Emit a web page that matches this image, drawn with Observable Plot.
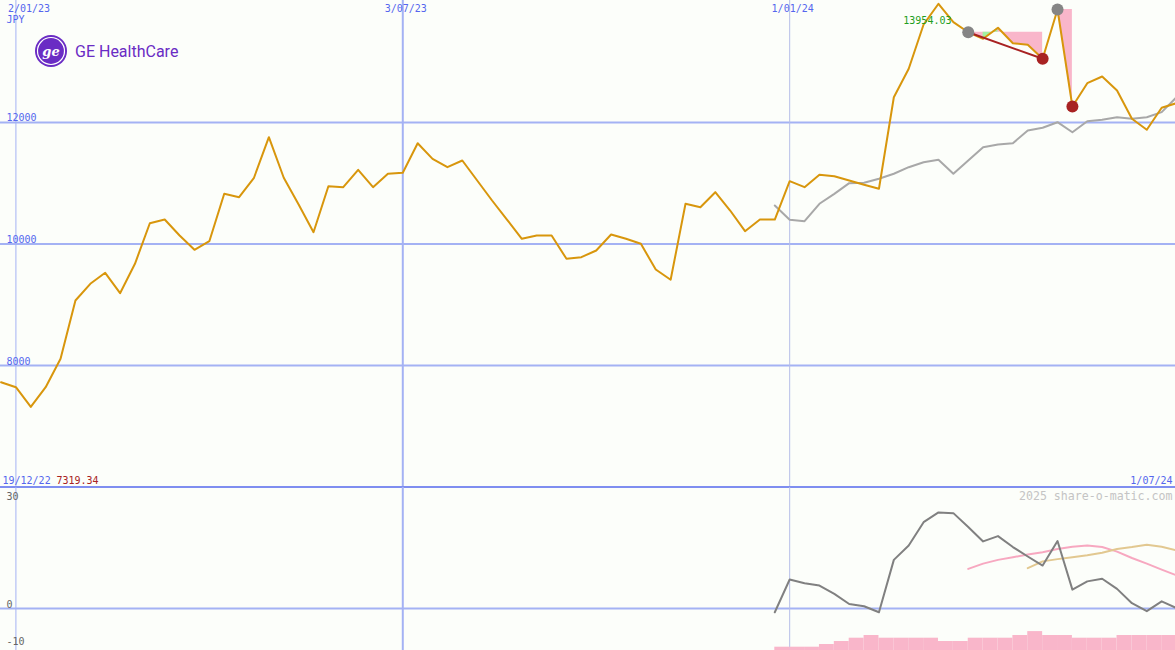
<!DOCTYPE html>
<html><head><meta charset="utf-8">
<script src="https://cdn.jsdelivr.net/npm/d3@7"></script>
<script src="https://cdn.jsdelivr.net/npm/@observablehq/plot@0.6"></script>
<style>
body{margin:0;background:#fcfefa;}
#chart{position:relative;width:1175px;height:650px;overflow:hidden;background:#fcfefa;}
#chart svg{display:block;position:absolute;left:0;}
</style></head><body><div id="chart"></div>
<script>
// ---- data ----
const startWeek = Date.UTC(2022, 11, 26);
const price = [7725,7643,7319.34,7643,8110,9070,9345,9526,9190,9674,
10342,10403,10140,9905,10046,10826,10770,11090,11758,11090,
10650,10194,10951,10935,11221,10935,11156,11172,11659,11402,
11264,11374,11045,10716,10403,10086,10140,10140,9756,9783,
9893,10156,10086,10003,9580,9411,10662,10606,10853,10551,
10211,10403,10403,11034,10935,11139,11116,11045,10974,10909,
12416,12884,13613,13954.03,13651,13486,13378,13559,13305,13279,
13049,13860,12263,12647,12757,12527,12061,11880,12242,12318];
const avgStart = 52;
const avgLine = [10634,10398,10375,10662,10826,11001,11007,11073,11156,11264,11346,11386,11156,11374,11593,11638,11659,11868,11913,12005,11840,12021,12044,12087,12061,12087,12170,12416];
const oscStart = 52;
const osc = [-1.0,7.7,6.7,6.1,3.9,1.2,0.6,-1.0,12.9,16.7,22.9,25.5,25.3,21.6,17.8,19.2,16.3,13.8,11.4,17.9,5.0,7.2,7.9,5.2,1.4,-0.7,1.9,0.1];
const pinkStart = 65;
const pinkLine = [10.5,11.9,12.9,13.6,14.3,14.9,15.8,16.4,16.7,16.3,15.1,13.4,11.9,10.3,8.8];
const tanStart = 69;
const tanLine = [10.7,12.5,13.1,13.6,14.1,14.8,15.8,16.3,16.9,16.4,15.4];
const volStart = 52;
const volume = [1.1,1.1,1.1,2,3,4.1,5,4.1,4.1,4.1,4.1,3,3,4.1,4.1,4.1,5,6.3,5,5,4.1,4.1,4.1,5,5,5,5];
const buySignals = [65, 71];
const sellSignals = [70, 72];
const greenSpan = [66, 67];
const priceTicks = [8000, 10000, 12000];
const oscTicks = [30, 0, -10];
const gridDates = [Date.UTC(2023,0,2), Date.UTC(2023,6,3), Date.UTC(2024,0,1)].map(d => new Date(d));
const gridLabels = ["2/01/23", "3/07/23", "1/01/24"];
const startLabel = "19/12/22";
const endLabel = "1/07/24";
const currency = "JPY";
const credit = "2025 share-o-matic.com";

// ---- derived ----
const dateAt = i => new Date(startWeek + i * 7 * 864e5);
const series = price.map((v, i) => ({date: dateAt(i), v}));
const avg = avgLine.map((v, k) => ({date: dateAt(avgStart + k), v}));
const oscD = osc.map((v, k) => ({date: dateAt(oscStart + k), v}));
const pinkD = pinkLine.map((v, k) => ({date: dateAt(pinkStart + k), v}));
const tanD = tanLine.map((v, k) => ({date: dateAt(tanStart + k), v}));
const volD = volume.map((v, k) => ({d1: dateAt(volStart + k), d2: dateAt(volStart + k + 1), v}));
const segs = buySignals.map((b, k) => d3.range(b, sellSignals[k] + 1).map(i => ({date: dateAt(i), v: price[i], ref: price[b]})));
const greenD = d3.range(greenSpan[0], greenSpan[1] + 1).map(i => ({date: dateAt(i), v: price[i], ref: price[buySignals[0]]}));
const link = [buySignals[0], sellSignals[0]].map(i => ({date: dateAt(i), v: price[i]}));
const maxI = d3.maxIndex(price), minI = d3.minIndex(price);

const xDomain = [new Date(Date.UTC(2022,11,25,18)), new Date(Date.UTC(2024,5,30,12))];
const mono = "DejaVu Sans Mono";
const blue = "#5566ee", grid = "#a4b2f4";

const main = Plot.plot({
  width: 1175, height: 487, margin: 0,
  x: {type: "utc", domain: xDomain, axis: null},
  y: {domain: [5992, 14008], axis: null},
  style: {background: "transparent", overflow: "visible", fontFamily: mono},
  marks: [
    Plot.ruleY(priceTicks, {stroke: grid, strokeWidth: 2}),
    Plot.ruleX([gridDates[0]], {stroke: grid, strokeWidth: 1}),
    Plot.ruleX([gridDates[1]], {stroke: grid, strokeWidth: 2}),
    Plot.ruleX([gridDates[2]], {stroke: "#b6bee8", strokeWidth: 1}),
    Plot.ruleY([5992], {stroke: "#7f8ef0", strokeWidth: 2, dy: -0.5}),
    ...segs.map(s => Plot.areaY(s, {x: "date", y1: "ref", y2: "v", fill: "#f9b6ca"})),
    Plot.areaY(greenD, {x: "date", y1: "ref", y2: "v", fill: "#a2f2a2"}),
    Plot.line(avg, {x: "date", y: "v", stroke: "#a8a8a8", strokeWidth: 2}),
    Plot.line(series, {x: "date", y: "v", stroke: "#d8960c", strokeWidth: 2}),
    Plot.line(link, {x: "date", y: "v", stroke: "#a82222", strokeWidth: 2}),
    Plot.dot(buySignals.map(i => series[i]), {x: "date", y: "v", r: 6, fill: "#858585"}),
    Plot.dot(sellSignals.map(i => series[i]), {x: "date", y: "v", r: 6, fill: "#a82222"}),
    Plot.text(priceTicks, {y: d => d, text: d => String(d), frameAnchor: "left", textAnchor: "start", lineAnchor: "bottom", dx: 6, dy: -1, fill: blue, fontSize: 10}),
    Plot.text([gridDates[0]], {x: d => d, text: () => gridLabels[0], frameAnchor: "top", textAnchor: "start", lineAnchor: "middle", dx: -8, dy: 8, fill: blue, fontSize: 10}),
    Plot.text(gridDates.slice(1), {x: d => d, text: (d, i) => gridLabels[i + 1], frameAnchor: "top", textAnchor: "middle", lineAnchor: "middle", dx: 3, dy: 8, fill: blue, fontSize: 10}),
    Plot.text([currency], {text: d => d, frameAnchor: "top-left", textAnchor: "start", lineAnchor: "middle", dx: 6, dy: 19, fill: blue, fontSize: 10}),
    Plot.text([series[maxI]], {x: "date", y: "v", text: d => d.v.toFixed(2), textAnchor: "end", lineAnchor: "middle", dx: 13, dy: 17, fill: "#1f9e1f", fontSize: 10}),
    Plot.text([startLabel], {text: d => d, frameAnchor: "bottom-left", textAnchor: "start", lineAnchor: "middle", dx: 2, dy: -7, fill: blue, fontSize: 10}),
    Plot.text([price[minI]], {text: d => d.toFixed(2), frameAnchor: "bottom-left", textAnchor: "start", lineAnchor: "middle", dx: 56, dy: -7, fill: "#a82222", fontSize: 10}),
    Plot.text([endLabel], {text: d => d, frameAnchor: "bottom-right", textAnchor: "end", lineAnchor: "middle", dx: -3, dy: -7, fill: blue, fontSize: 10})
  ]
});
main.style.top = "0px";

const bottom = Plot.plot({
  width: 1175, height: 163, margin: 0,
  x: {type: "utc", domain: xDomain, axis: null},
  y: {domain: [-11.14, 32.1], axis: null},
  style: {background: "transparent", overflow: "visible", fontFamily: mono},
  marks: [
    Plot.ruleY([0], {stroke: grid, strokeWidth: 2}),
    Plot.ruleX([gridDates[0]], {stroke: grid, strokeWidth: 1}),
    Plot.ruleX([gridDates[1]], {stroke: grid, strokeWidth: 2}),
    Plot.ruleX([gridDates[2]], {stroke: "#b6bee8", strokeWidth: 1}),
    Plot.line(pinkD, {x: "date", y: "v", stroke: "#f7a8c0", strokeWidth: 2}),
    Plot.line(tanD, {x: "date", y: "v", stroke: "#e2c890", strokeWidth: 2}),
    Plot.line(oscD, {x: "date", y: "v", stroke: "#808080", strokeWidth: 2}),
    Plot.text(oscTicks.slice(1), {y: d => d, text: d => String(d), frameAnchor: "left", textAnchor: "start", lineAnchor: "bottom", dx: 6, dy: -1, fill: "#666", fontSize: 10}),
    Plot.text(oscTicks.slice(0, 1), {y: d => d, text: d => String(d), frameAnchor: "left", textAnchor: "start", lineAnchor: "middle", dx: 6, dy: 1, fill: "#666", fontSize: 10}),
    Plot.text([credit], {text: d => d, frameAnchor: "top-right", textAnchor: "end", lineAnchor: "middle", dx: -3, dy: 9, fill: "#c4c4c4", fontSize: 11.6})
  ]
});
bottom.style.top = "487px";

const vol = Plot.plot({
  width: 1175, height: 163, margin: 0,
  x: {type: "utc", domain: xDomain, axis: null},
  y: {domain: [0, 54.33], axis: null},
  style: {background: "transparent"},
  marks: [
    Plot.rectY(volD, {x1: "d1", x2: "d2", y: "v", fill: "#f9b6ca", inset: 0})
  ]
});
vol.style.top = "487px";

const chart = document.getElementById("chart");
chart.append(main, bottom, vol);

// logo
const ns = "http://www.w3.org/2000/svg";
const logo = document.createElementNS(ns, "svg");
logo.setAttribute("width", "200"); logo.setAttribute("height", "80");
logo.style.top = "0px";
logo.innerHTML = `
<circle cx="51" cy="51" r="16" fill="#6a2cc4"/>
<circle cx="51" cy="51" r="13.5" fill="none" stroke="#fff" stroke-width="1.2"/>
<text x="51" y="55.5" text-anchor="middle" fill="#fff" font-family="DejaVu Serif" font-style="italic" font-weight="bold" font-size="13">ge</text>
<text x="75" y="57" fill="#6a2cc4" font-family="Roboto" font-size="16">GE HealthCare</text>`;
chart.append(logo);
</script></body></html>
